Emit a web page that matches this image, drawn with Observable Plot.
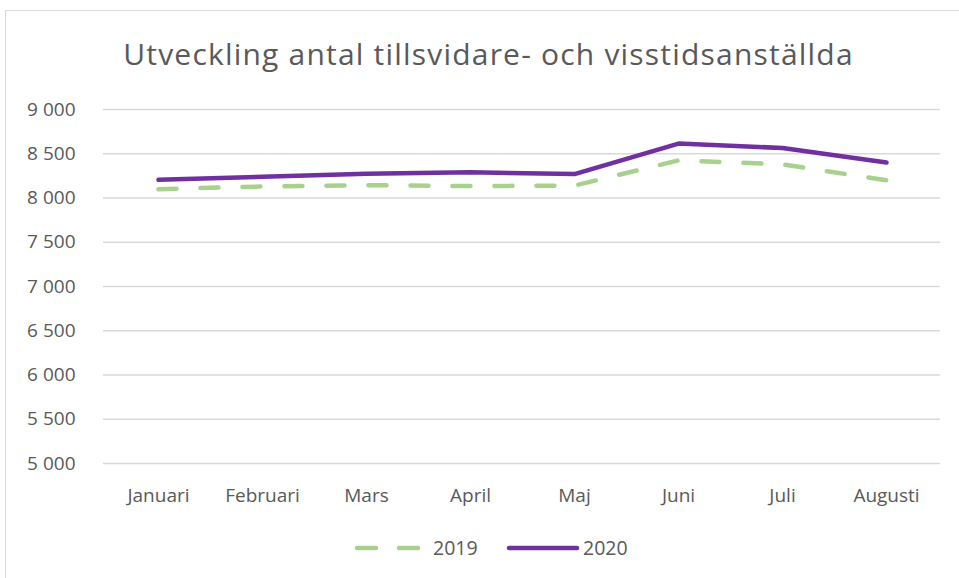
<!DOCTYPE html>
<html><head><meta charset="utf-8">
<script src="https://cdn.jsdelivr.net/npm/d3@7"></script>
<script src="https://cdn.jsdelivr.net/npm/@observablehq/plot@0.6"></script>
<style>
body{margin:0;background:#fff;font-family:"Open Sans",sans-serif;}
#wrap{position:relative;width:959px;height:578px;overflow:hidden;}
#frame{position:absolute;left:5px;top:10px;width:970px;height:600px;border:1px solid #d9d9d9;box-sizing:border-box;}
#title{position:absolute;left:9px;width:959px;top:34px;text-align:center;font-size:30px;letter-spacing:1.2px;color:#595959;line-height:40px;white-space:nowrap;}
#chart{position:absolute;left:0;top:90px;}
#legend{position:absolute;top:536px;left:0;width:959px;height:24px;font-size:19.5px;color:#595959;}
#legend span{position:absolute;top:0;line-height:24px;}
#legend svg{position:absolute;top:0;}
</style></head>
<body>
<div id="wrap">
<div id="frame"></div>
<div id="title">Utveckling antal tillsvidare- och visstidsanställda</div>
<div id="chart"></div>
<div id="legend"></div>
</div>
<script>
const months = ["Januari","Februari","Mars","April","Maj","Juni","Juli","Augusti"];
const values2019 = [8100, 8130, 8145, 8135, 8140, 8425, 8380, 8200];
const values2020 = [8205, 8240, 8275, 8290, 8270, 8615, 8565, 8400];
const yTicks = [5000,5500,6000,6500,7000,7500,8000,8500,9000];
const seriesNames = ["2019","2020"];
const colors = {"2019":"#A9D18E","2020":"#7030A0"};

const rows19 = months.map((m,i)=>({month:m, value:values2019[i]}));
const rows20 = months.map((m,i)=>({month:m, value:values2020[i]}));
const fmt = d => d3.format(",")(d).replace(/,/g," ");

const chart = Plot.plot({
  width: 959, height: 423,
  marginTop: 19, marginBottom: 50, marginLeft: 103, marginRight: 19,
  style: {fontFamily: "Open Sans, sans-serif", fontSize: "19px", color: "#595959", background: "transparent"},
  x: {type: "point", domain: months, padding: 0.5, label: null, tickSize: 0, tickPadding: 25},
  y: {domain: [5000, 9000], ticks: yTicks, tickFormat: fmt, label: null, tickSize: 0, tickPadding: 28},
  marks: [
    Plot.gridY(yTicks, {stroke: "#d9d9d9", strokeOpacity: 1, strokeWidth: 1.3}),
    Plot.lineY(rows19, {x: "month", y: "value", stroke: colors["2019"], strokeWidth: 4.5, strokeDasharray: "18,24", strokeLinecap: "round", strokeLinejoin: "round"}),
    Plot.lineY(rows20, {x: "month", y: "value", stroke: colors["2020"], strokeWidth: 4.5, strokeLinecap: "round", strokeLinejoin: "round"})
  ]
});
document.getElementById("chart").appendChild(chart);

// legend
const lg = document.getElementById("legend");
const ns = "http://www.w3.org/2000/svg";
function sw(x, w, color, dash){
  const s = document.createElementNS(ns,"svg");
  s.setAttribute("width", w+10); s.setAttribute("height", 24);
  s.style.left = (x-5)+"px";
  const l = document.createElementNS(ns,"line");
  l.setAttribute("x1",5); l.setAttribute("x2",5+w); l.setAttribute("y1",12); l.setAttribute("y2",12);
  l.setAttribute("stroke",color); l.setAttribute("stroke-width",4.5); l.setAttribute("stroke-linecap","round");
  if(dash) l.setAttribute("stroke-dasharray",dash);
  s.appendChild(l); lg.appendChild(s);
}
function lab(x, t){ const sp=document.createElement("span"); sp.textContent=t; sp.style.left=x+"px"; lg.appendChild(sp); }
sw(357, 62, colors[seriesNames[0]], "19,23");
lab(433, seriesNames[0]);
sw(509, 68, colors[seriesNames[1]], null);
lab(583, seriesNames[1]);
</script>
</body></html>
